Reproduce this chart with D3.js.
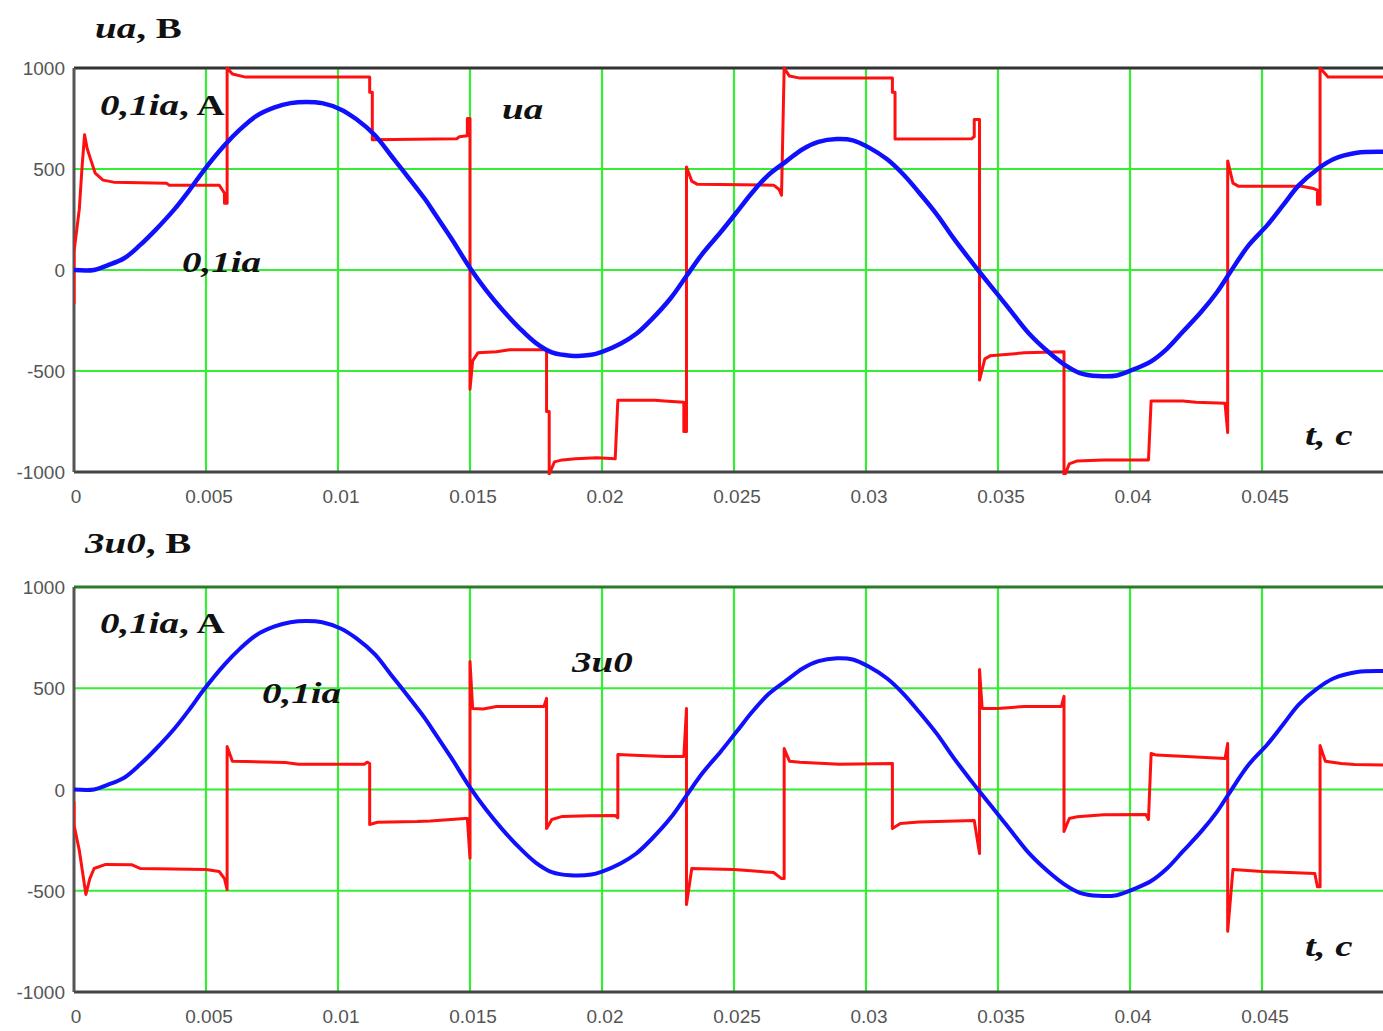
<!DOCTYPE html>
<html>
<head>
<meta charset="utf-8">
<script src="https://cdn.jsdelivr.net/npm/d3@7"></script>
<style>
 body{margin:0;background:#fff;}
 svg{display:block;}
</style>
</head>
<body>
<div id="chart"></div>
<script>
// time ticks (seconds) and labels
const xTicks = [0, 0.005, 0.01, 0.015, 0.02, 0.025, 0.03, 0.035, 0.04, 0.045];
const xTickLabels = ['0', '0.005', '0.01', '0.015', '0.02', '0.025', '0.03', '0.035', '0.04', '0.045'];
const yTicks = [-1000, -500, 0, 500, 1000];
const yGrid = [-500, 0, 500];

// 0,1ia (blue)
const currentPoints = [
 [0,0],[0.00076,0],[0.00125,22],[0.0019,58],[0.0025,123],[0.0031,200],[0.0038,300],[0.0044,400],
 [0.0049,490],[0.0057,617],[0.0063,697],[0.0069,762],[0.0076,805],[0.0082,826],[0.0088,832],
 [0.0094,826],[0.0101,795],[0.0107,746],[0.0114,667],[0.012,568],[0.0126,469],[0.0133,350],
 [0.0137,272],[0.0143,155],[0.015,10],[0.0156,-98],[0.0162,-193],[0.0169,-291],[0.0175,-362],
 [0.0181,-408],[0.0188,-424],[0.0196,-420],[0.02,-405],[0.0207,-365],[0.0213,-316],[0.0219,-242],
 [0.0226,-140],[0.0232,-30],[0.0238,80],[0.0245,188],[0.0251,286],[0.0257,385],[0.0263,470],
 [0.027,540],[0.0276,598],[0.0282,634],[0.0289,648],[0.0295,642],[0.0301,607],[0.0308,548],
 [0.0314,475],[0.032,385],[0.0327,272],[0.0333,160],[0.034,40],[0.0343,-10],[0.035,-123],
 [0.0356,-222],[0.0362,-318],[0.0369,-405],[0.0375,-467],[0.0381,-510],[0.0388,-525],
 [0.0395,-522],[0.0401,-494],[0.0408,-452],[0.0414,-390],[0.042,-306],[0.0427,-207],
 [0.0433,-109],[0.0438,-10],[0.0445,123],[0.0452,222],[0.0458,321],[0.0464,420],[0.0471,499],
 [0.0477,548],[0.0486,580],[0.0496,585],[0.05,585]
];

// ua (red, top panel)
const uaPoints = [
 [0,-170],[0,90],[0.0002,300],[0.0003,500],[0.0004,670],[0.0005,600],[0.0006,560],[0.0008,480],
 [0.0011,445],[0.0015,435],[0.0035,430],[0.0036,420],[0.0055,420],[0.0057,380],[0.0057,330],
 [0.0058,330],[0.0058,1000],[0.006,970],[0.0065,955],[0.0112,955],[0.0112,880],[0.0113,880],
 [0.0113,645],[0.0145,650],[0.0146,660],[0.0149,665],[0.0149,750],[0.015,750],[0.015,-590],
 [0.0151,-450],[0.0153,-410],[0.016,-405],[0.0165,-395],[0.0179,-395],[0.0179,-700],[0.018,-700],
 [0.018,-1010],[0.0182,-950],[0.0185,-940],[0.019,-935],[0.0198,-930],[0.0205,-935],[0.0206,-645],
 [0.022,-645],[0.0225,-650],[0.0231,-655],[0.0231,-800],[0.0232,-800],[0.0232,510],[0.0234,440],
 [0.0236,425],[0.0265,420],[0.0267,400],[0.0268,370],[0.0269,1000],[0.0271,960],[0.0275,950],
 [0.031,950],[0.031,880],[0.0311,880],[0.0311,648],[0.034,650],[0.0341,660],[0.0341,745],
 [0.0343,745],[0.0343,-545],[0.0345,-440],[0.0347,-425],[0.036,-410],[0.0375,-405],[0.0375,-1025],
 [0.0377,-960],[0.038,-945],[0.039,-940],[0.0407,-940],[0.0408,-648],[0.042,-648],[0.0425,-655],
 [0.0436,-660],[0.0437,-805],[0.0437,540],[0.0439,430],[0.0441,415],[0.0465,415],[0.0469,405],
 [0.0471,395],[0.0471,325],[0.0472,325],[0.0472,1000],[0.0475,955],[0.05,955]
];

// 3u0 (red, bottom panel)
const u0Points = [
 [0,-60],[0,-175],[0.0002,-300],[0.00045,-518],[0.0006,-440],[0.00076,-390],[0.0012,-370],
 [0.0022,-372],[0.0025,-390],[0.005,-395],[0.0055,-405],[0.0057,-440],[0.0058,-494],
 [0.0058,212],[0.006,140],[0.0065,138],[0.008,133],[0.0085,125],[0.011,125],
 [0.0111,135],[0.0112,128],[0.0112,-173],[0.0115,-162],[0.013,-158],[0.0135,-155],[0.0148,-143],
 [0.0149,-143],[0.015,-340],[0.015,632],[0.0151,400],[0.0155,398],[0.016,410],[0.0178,410],
 [0.0179,450],[0.0179,-193],[0.0181,-148],[0.0185,-133],[0.0195,-130],[0.0205,-128],[0.0206,-140],
 [0.0206,173],[0.021,170],[0.0224,163],[0.0231,163],[0.0232,400],[0.0232,-568],[0.0234,-390],
 [0.025,-395],[0.0265,-410],[0.0268,-440],[0.0269,-440],[0.0269,202],[0.0271,140],[0.0275,135],
 [0.029,125],[0.031,128],[0.031,-193],[0.0313,-168],[0.032,-160],[0.0341,-153],[0.0343,-316],
 [0.0343,593],[0.0344,400],[0.035,400],[0.036,410],[0.0374,410],[0.0375,460],[0.0375,-207],
 [0.0377,-143],[0.038,-135],[0.039,-125],[0.0406,-123],[0.0407,-148],[0.0408,178],[0.041,170],
 [0.0425,160],[0.0436,153],[0.0437,227],[0.0437,-700],[0.0439,-395],[0.045,-405],[0.047,-415],
 [0.0471,-480],[0.0472,-480],[0.0472,217],[0.0474,140],[0.048,128],[0.0485,123],[0.05,120]
];

const width = 1383, height = 1031;
const plotLeft = 74, plotRight = 1394;

const svg = d3.select('#chart').append('svg')
    .attr('width', width)
    .attr('height', height);

const xScale = d3.scaleLinear()
    .domain([0, 0.05])
    .range([plotLeft, plotRight]);

const serif = "'Liberation Serif','Times New Roman',serif";

function label(g, x, y, parts){
 const t = g.append('text')
     .attr('transform', `translate(${x},${y}) scale(1.3,1)`)
     .style('font-family', serif)
     .style('font-size', '30px')
     .style('font-weight', 'bold')
     .attr('fill', '#111');
 parts.forEach(p => {
  t.append('tspan').text(p[0]).style('font-style', p[1] ? 'italic' : 'normal');
 });
}

function drawPanel(id, top, bottom, redData, topBorder, blueWidth){
 const yScale = d3.scaleLinear()
     .domain([-1000, 1000])
     .range([bottom, top]);

 const g = svg.append('g').attr('id', id);

 g.append('clipPath').attr('id', id + '-clip')
   .append('rect')
     .attr('x', plotLeft).attr('y', top - 3)
     .attr('width', plotRight - plotLeft).attr('height', bottom - top + 6);

 // grid lines
 g.append('g').selectAll('line')
     .data(xTicks.slice(1))
     .join('line')
     .attr('x1', d => xScale(d)).attr('x2', d => xScale(d))
     .attr('y1', top).attr('y2', bottom)
     .attr('stroke', '#33ee33').attr('stroke-width', 2.2);

 g.append('g').selectAll('line')
     .data(yGrid)
     .join('line')
     .attr('x1', plotLeft).attr('x2', width)
     .attr('y1', d => yScale(d)).attr('y2', d => yScale(d))
     .attr('stroke', '#33ee33').attr('stroke-width', 2.2);

 // frame
 g.append('line')
     .attr('x1', plotLeft).attr('x2', width)
     .attr('y1', top).attr('y2', top)
     .attr('stroke', topBorder).attr('stroke-width', 3);
 g.append('line')
     .attr('x1', plotLeft).attr('x2', width)
     .attr('y1', bottom).attr('y2', bottom)
     .attr('stroke', '#444').attr('stroke-width', 3);
 g.append('line')
     .attr('x1', plotLeft).attr('x2', plotLeft)
     .attr('y1', top).attr('y2', bottom)
     .attr('stroke', '#555').attr('stroke-width', 3);

 const line = d3.line()
     .x(d => xScale(d[0]))
     .y(d => yScale(d[1]));

 const plot = g.append('g').attr('clip-path', `url(#${id}-clip)`);

 plot.append('path')
     .datum(redData)
     .attr('fill', 'none')
     .attr('stroke', '#ff1010')
     .attr('stroke-width', 3)
     .attr('stroke-linejoin', 'round')
     .attr('d', line);

 plot.append('path')
     .datum(currentPoints)
     .attr('fill', 'none')
     .attr('stroke', '#1010ff')
     .attr('stroke-width', blueWidth)
     .attr('d', line.curve(d3.curveCatmullRom));

 // tick labels
 g.append('g').selectAll('text')
     .data(yTicks)
     .join('text')
     .attr('x', 65)
     .attr('y', d => yScale(d) + 7)
     .attr('text-anchor', 'end')
     .style('font-family', "'Liberation Sans',Arial,sans-serif")
     .style('font-size', '19px')
     .attr('fill', '#555')
     .text(d => d);

 g.append('g').selectAll('text')
     .data(xTicks)
     .join('text')
     .attr('x', (d, i) => xScale(d) + (i === 0 ? 2 : 3))
     .attr('y', bottom + 31)
     .attr('text-anchor', 'middle')
     .style('font-family', "'Liberation Sans',Arial,sans-serif")
     .style('font-size', '19px')
     .attr('fill', '#555')
     .text((d, i) => xTickLabels[i]);

 return g;
}

const gTop = drawPanel('ua', 68, 472, uaPoints, '#333', 4.5);
const gBottom = drawPanel('u0', 587, 992, u0Points, '#2a7a2a', 4);

label(gTop, 95, 38, [['ua', true], [', B', false]]);
label(gTop, 100, 115, [['0,1ia', true], [', A', false]]);
label(gTop, 502, 119, [['ua', true]]);
label(gTop, 182, 272, [['0,1ia', true]]);
label(gTop, 1305, 445, [['t, c', true]]);

label(gBottom, 85, 553, [['3u0', true], [', B', false]]);
label(gBottom, 100, 633, [['0,1ia', true], [', A', false]]);
label(gBottom, 572, 672, [['3u0', true]]);
label(gBottom, 262, 703, [['0,1ia', true]]);
label(gBottom, 1305, 956, [['t, c', true]]);
</script>
</body>
</html>
